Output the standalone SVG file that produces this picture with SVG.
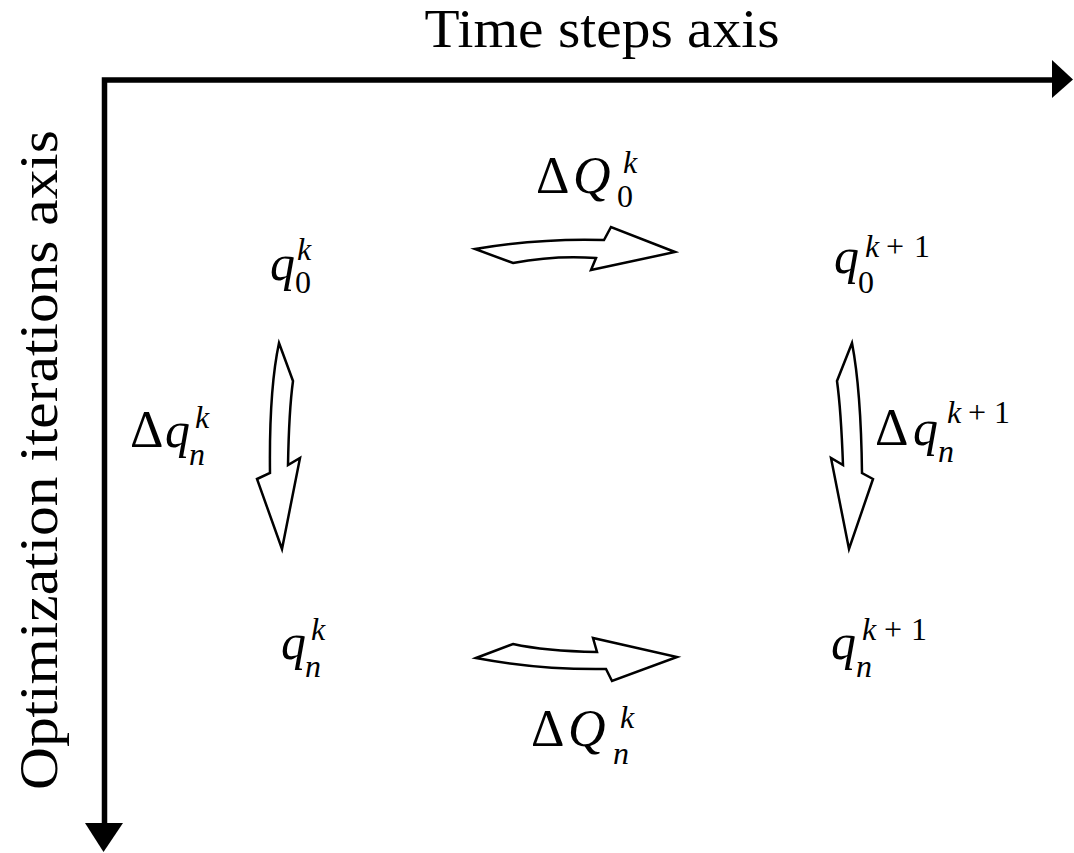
<svg xmlns="http://www.w3.org/2000/svg" width="1074" height="853" viewBox="0 0 1074 853">
<style>
.t{font-family:"Liberation Serif","DejaVu Serif",serif;fill:#000}
.big{font-size:50px}
.D{font-size:52px}
.Q{font-size:52px}
.sm{font-size:32px}
.it{font-style:italic}
.blk{fill:#fff;stroke:#000;stroke-width:2.5;stroke-linejoin:miter}
.ax{fill:none;stroke:#000;stroke-width:5.5}
</style>
<rect width="1074" height="853" fill="#fff"/>
<g id="axes">
<path class="ax" d="M104.5,826 V80 H1054"/>
<polygon points="1052,60 1073,79.5 1052,98" fill="#000"/>
<polygon points="85,823 123,823 103.5,852" fill="#000"/>
<text class="t" x="602" y="47" font-size="54" text-anchor="middle" textLength="355" lengthAdjust="spacingAndGlyphs">Time steps axis</text>
<text class="t" transform="translate(57,460) rotate(-90)" font-size="54" text-anchor="middle" textLength="660" lengthAdjust="spacingAndGlyphs">Optimization iterations axis</text>
</g>
<g id="connectors">
<path class="blk" d="M475,249 Q540,238 604,240 L611,227 L675,252 L591,270 L596,258 Q555,255 513,263 Z"/>
<path class="blk" d="M476,658 L513,644 Q545,651 597,652 L593,638 L677,657 L612,681 L606,669 Q540,670 476,658 Z"/>
<path class="blk" d="M279,343 L293,381 Q289,410 288,465 L300,458 L282,549 L257,479 L270,473 Q269,390 279,343 Z"/>
<path class="blk" d="M852,343 L837,381 Q841,410 843,465 L831,458 L849,549 L873,479 L862,473 Q861,390 852,343 Z"/>
</g>
<g id="q0k">
<text class="t"><tspan class="big it" x="270" y="280">q</tspan><tspan class="sm" x="295" y="293">0</tspan><tspan class="sm it" x="297" y="260">k</tspan></text>
</g>
<g id="q0k1">
<text class="t"><tspan class="big it" x="834" y="273">q</tspan><tspan class="sm" x="858" y="293">0</tspan><tspan class="sm it" x="865" y="257">k</tspan><tspan class="sm" x="886" y="257">+</tspan><tspan class="sm" x="914" y="257">1</tspan></text>
</g>
<g id="qnk">
<text class="t"><tspan class="big it" x="281" y="659">q</tspan><tspan class="sm it" x="305" y="677">n</tspan><tspan class="sm it" x="311" y="640">k</tspan></text>
</g>
<g id="qnk1">
<text class="t"><tspan class="big it" x="831" y="659">q</tspan><tspan class="sm it" x="856" y="677">n</tspan><tspan class="sm it" x="862" y="640">k</tspan><tspan class="sm" x="884" y="640">+</tspan><tspan class="sm" x="911" y="640">1</tspan></text>
</g>
<g id="dQ0k">
<text class="t"><tspan class="D" x="536" y="193">Δ</tspan><tspan class="Q it" x="573" y="193">Q</tspan><tspan class="sm" x="617" y="207">0</tspan><tspan class="sm it" x="623" y="173">k</tspan></text>
</g>
<g id="dQnk">
<text class="t"><tspan class="D" x="531" y="746">Δ</tspan><tspan class="Q it" x="568" y="746">Q</tspan><tspan class="sm it" x="613" y="764">n</tspan><tspan class="sm it" x="620" y="728">k</tspan></text>
</g>
<g id="dqnk">
<text class="t"><tspan class="D" x="130" y="447">Δ</tspan><tspan class="big it" x="165" y="447">q</tspan><tspan class="sm it" x="189" y="465">n</tspan><tspan class="sm it" x="195" y="428">k</tspan></text>
</g>
<g id="dqnk1">
<text class="t"><tspan class="D" x="875" y="445">Δ</tspan><tspan class="big it" x="913" y="445">q</tspan><tspan class="sm it" x="938" y="462">n</tspan><tspan class="sm it" x="947" y="423">k</tspan><tspan class="sm" x="968" y="423">+</tspan><tspan class="sm" x="994" y="423">1</tspan></text>
</g>
</svg>
